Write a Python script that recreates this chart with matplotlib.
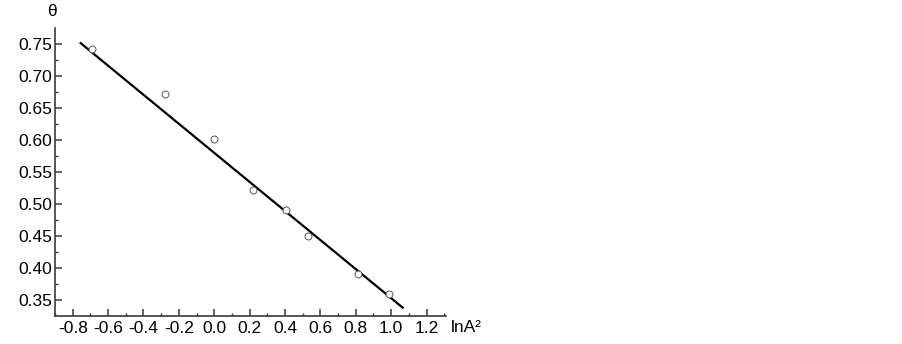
import matplotlib
matplotlib.use("Agg")
import matplotlib.pyplot as plt
from matplotlib.ticker import MultipleLocator, FormatStrFormatter

# Data
ln_A2 = [-0.69, -0.28, 0.00, 0.22, 0.405, 0.53, 0.81, 0.99]
theta = [0.742, 0.671, 0.601, 0.521, 0.490, 0.450, 0.390, 0.360]
fit_x = [-0.76, 1.07]
fit_y = [0.752, 0.337]
x_ticks = [-0.8, -0.6, -0.4, -0.2, 0.0, 0.2, 0.4, 0.6, 0.8, 1.0, 1.2]
y_ticks = [0.35, 0.40, 0.45, 0.50, 0.55, 0.60, 0.65, 0.70, 0.75]

plt.rcParams['font.family'] = ['Liberation Sans', 'DejaVu Sans']

fig = plt.figure(figsize=(9.03, 3.44), dpi=100)
ax = fig.add_axes([55/903, 1 - 315.7/344, (446-55)/903, (315.7-28)/344])

axis_col = '#3a3a3a'
ax.plot(fit_x, fit_y, color='black', lw=1.6, solid_capstyle='butt', zorder=2)
ax.plot(ln_A2, theta, linestyle='none', marker='o', markersize=5,
        markerfacecolor='white', markeredgecolor='#555555', markeredgewidth=0.7, zorder=3)

ax.set_xlim(-0.9, 1.31)
ax.set_ylim(0.3255, 0.7745)
ax.set_xticks(x_ticks)
ax.set_yticks(y_ticks)
ax.xaxis.set_major_formatter(FormatStrFormatter('%.1f'))
ax.yaxis.set_major_formatter(FormatStrFormatter('%.2f'))
ax.xaxis.set_minor_locator(MultipleLocator(0.1))
ax.yaxis.set_minor_locator(MultipleLocator(0.025))

for s in ['top', 'right']:
    ax.spines[s].set_visible(False)
for s in ['left', 'bottom']:
    ax.spines[s].set_color(axis_col)
    ax.spines[s].set_linewidth(1.2)

ax.tick_params(axis='both', which='major', direction='in', length=5, width=1.1,
               color=axis_col, labelsize=12.5, labelcolor='black')
ax.tick_params(axis='both', which='minor', direction='in', length=2.5, width=1.0,
               color=axis_col)
ax.tick_params(axis='y', which='major', pad=2)
ax.tick_params(axis='x', which='major', pad=4)

fig.text(52/903, 1 - 12/344, 'θ', ha='center', va='center', fontsize=12.5)
fig.text(451/903, 1 - 328/344, 'lnA²', ha='left', va='center', fontsize=12.5)

fig.savefig('out.png', dpi=100)
